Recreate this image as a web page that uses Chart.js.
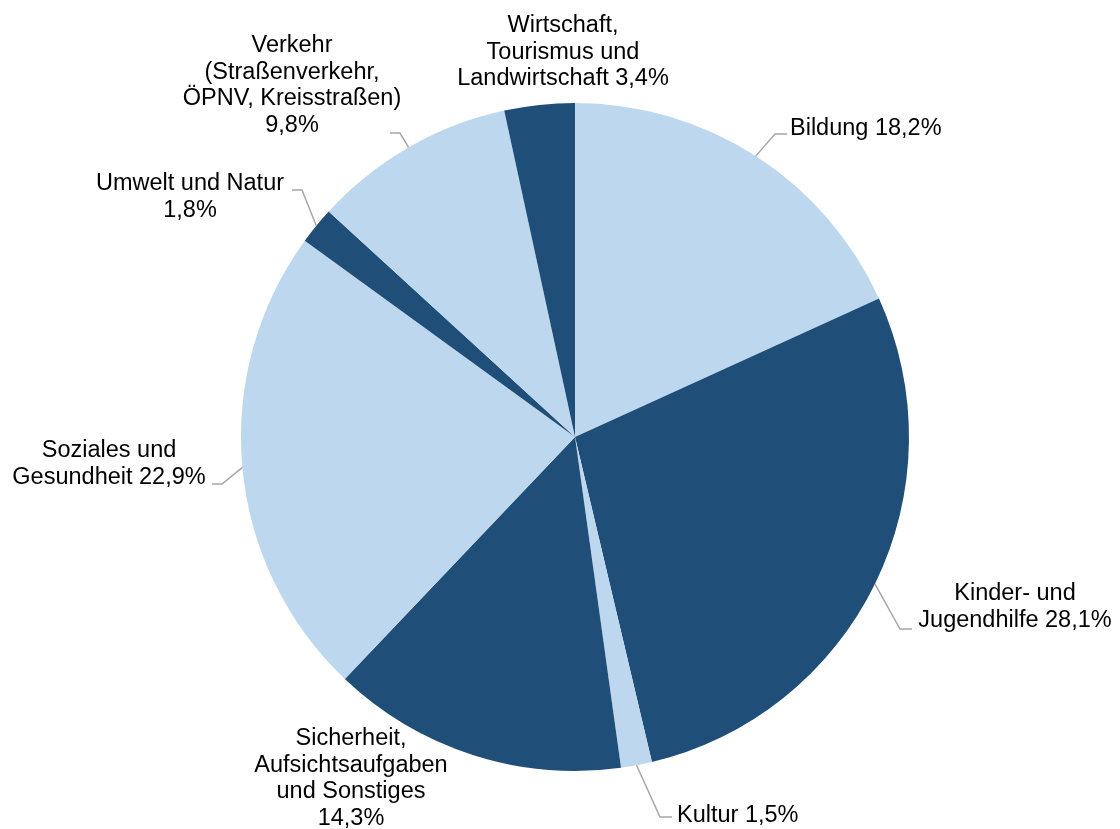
<!DOCTYPE html>
<html lang="de">
<head>
<meta charset="utf-8">
<title>Anteile nach Aufgabenbereichen</title>
<script src="https://cdn.jsdelivr.net/npm/chart.js@4/dist/chart.umd.min.js"></script>
<style>
    html, body { margin: 0; padding: 0; background: #ffffff; }
    #wrap { width: 1120px; height: 829px; position: relative; }
</style>
</head>
<body>
<div id="wrap"><canvas id="pieChart" width="1120" height="829"></canvas></div>
<script>
// Data
const categories = [
    'Bildung',
    'Kinder- und Jugendhilfe',
    'Kultur',
    'Sicherheit, Aufsichtsaufgaben und Sonstiges',
    'Soziales und Gesundheit',
    'Umwelt und Natur',
    'Verkehr (Straßenverkehr, ÖPNV, Kreisstraßen)',
    'Wirtschaft, Tourismus und Landwirtschaft'
];
const shares = [18.2, 28.1, 1.5, 14.3, 22.9, 1.8, 9.8, 3.4];

// Label text, split as in the original ({v} = formatted share)
const labelLines = [
    ['Bildung {v}'],
    ['Kinder- und', 'Jugendhilfe {v}'],
    ['Kultur {v}'],
    ['Sicherheit,', 'Aufsichtsaufgaben', 'und Sonstiges', '{v}'],
    ['Soziales und', 'Gesundheit {v}'],
    ['Umwelt und Natur', '{v}'],
    ['Verkehr', '(Straßenverkehr,', 'ÖPNV, Kreisstraßen)', '{v}'],
    ['Wirtschaft,', 'Tourismus und', 'Landwirtschaft {v}']
];

// Styles / layout
const LIGHT = '#BDD7EE';
const DARK = '#1F4E79';
const sliceColors = categories.map((c, i) => i % 2 === 0 ? LIGHT : DARK);
const FONT = '23.5px "Liberation Sans", Arial, sans-serif';
const LINE_H = 26.7;

// label placement, offsets from pie centre (text x, first baseline y, elbow, end of leader)
const labelLayout = [
    { align: 'left',   dx: 215,  dy: -302, elbow: [200, -303],  end: [212, -303] },
    { align: 'center', dx: 440,  dy: 163,  elbow: [325, 192],   end: [337, 192] },
    { align: 'left',   dx: 102,  dy: 385,  elbow: [85, 380],    end: [97, 380] },
    { align: 'center', dx: -224, dy: 308,  elbow: null,         end: null },
    { align: 'center', dx: -466, dy: 20,   elbow: [-353, 47],   end: [-363, 47] },
    { align: 'center', dx: -385, dy: -247, elbow: [-273, -247], end: [-283, -247] },
    { align: 'center', dx: -283, dy: -385, elbow: [-175, -304], end: [-185, -304] },
    { align: 'center', dx: -12,  dy: -405, elbow: null,         end: null }
];

function fmt(v) {
    return v.toFixed(1).replace('.', ',') + '%';
}

// Outside labels with leader lines
const outsideLabels = {
    id: 'outsideLabels',
    afterDraw(chart) {
        const ctx = chart.ctx;
        const meta = chart.getDatasetMeta(0);
        ctx.save();
        meta.data.forEach((arc, i) => {
            const lay = labelLayout[i];
            const cx = arc.x, cy = arc.y;
            const mid = (arc.startAngle + arc.endAngle) / 2;

            // leader line from arc edge
            if (lay.elbow) {
                ctx.beginPath();
                ctx.strokeStyle = '#A6A6A6';
                ctx.lineWidth = 1.5;
                ctx.moveTo(cx + Math.cos(mid) * arc.outerRadius, cy + Math.sin(mid) * arc.outerRadius);
                ctx.lineTo(cx + lay.elbow[0], cy + lay.elbow[1]);
                ctx.lineTo(cx + lay.end[0], cy + lay.end[1]);
                ctx.stroke();
            }

            // text
            ctx.font = FONT;
            ctx.fillStyle = '#000000';
            ctx.textAlign = lay.align;
            ctx.textBaseline = 'alphabetic';
            labelLines[i].forEach((line, k) => {
                const txt = line.replace('{v}', fmt(shares[i]));
                ctx.fillText(txt, cx + lay.dx, cy + lay.dy + k * LINE_H);
            });
        });
        ctx.restore();
    }
};

const ctx = document.getElementById('pieChart');
new Chart(ctx, {
    type: 'pie',
    data: {
        labels: categories,
        datasets: [{
            data: shares,
            backgroundColor: sliceColors,
            borderWidth: 0
        }]
    },
    options: {
        responsive: false,
        animation: false,
        layout: { padding: { top: 103, bottom: 58, left: 241, right: 211 } },
        plugins: {
            legend: { display: false },
            tooltip: { enabled: false }
        }
    },
    plugins: [outsideLabels]
});
</script>
</body>
</html>
